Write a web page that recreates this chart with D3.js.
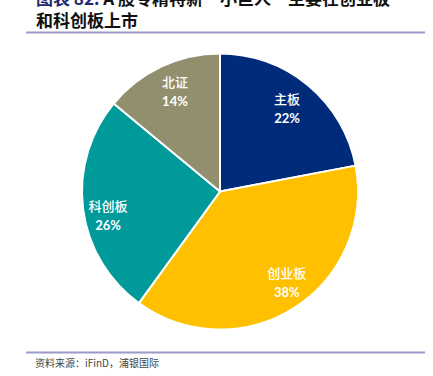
<!DOCTYPE html>
<html><head><meta charset="utf-8">
<script src="https://cdn.jsdelivr.net/npm/d3@7"></script>
<style>
html,body{margin:0;padding:0;background:#fff;}
svg{display:block;}
</style></head>
<body>
<svg id="chart" width="433" height="376"></svg>
<script>
const categories = ["主板", "创业板", "科创板", "北证"];
const shares = [22, 38, 26, 14];
const colors = ["#002B7A", "#FFC000", "#009A9A", "#928F6E"];
const titleLines = ["和科创板上市"];
const source = "资料来源：iFinD，浦银国际";

// label placement nudges (degrees, radius fraction) to mimic the original layout
const labelShiftDeg = [-0.5, -3.8, -4.9, 0.8];
const labelRadius = [0.77, 0.82, 0.83, 0.79];

const svg = d3.select("#chart");
const cx = 220, cy = 191.5, R = 138;
const cjk = "'Noto Sans CJK SC', sans-serif";
const latin = "Lato, 'Noto Sans CJK SC', sans-serif";

// title (first line partially cut off at top, as in the original)
const t1 = svg.append("text").attr("x", 36).attr("y", 5)
  .attr("font-family", cjk).attr("font-size", 17).attr("font-weight", "bold");
t1.append("tspan").attr("fill", "#1F2A6E").text("图表 82: ");
t1.append("tspan").attr("fill", "#111").text("A 股专精特新“小巨人”主要在创业板");
svg.append("text").attr("x", 36).attr("y", 27)
  .attr("font-family", cjk).attr("font-size", 17).attr("font-weight", "bold")
  .attr("fill", "#111").text(titleLines[0]);

svg.append("line").attr("x1", 26).attr("x2", 425).attr("y1", 32.5).attr("y2", 32.5)
  .attr("stroke", "#9C9AC8").attr("stroke-width", 2);
svg.append("line").attr("x1", 26).attr("x2", 425).attr("y1", 352.5).attr("y2", 352.5)
  .attr("stroke", "#9C9AC8").attr("stroke-width", 2);
svg.append("text").attr("x", 35).attr("y", 367)
  .attr("font-family", cjk).attr("font-size", 10).attr("fill", "#444").text(source);

const data = categories.map((c, i) => ({ name: c, value: shares[i], color: colors[i], i }));
const pie = d3.pie().value(d => d.value).sort(null);
const arcs = pie(data);
const arc = d3.arc().innerRadius(0).outerRadius(R);

const g = svg.append("g").attr("transform", `translate(${cx},${cy})`);
g.selectAll("path").data(arcs).join("path")
  .attr("d", arc).attr("fill", d => d.data.color)
  .attr("stroke", "#fff").attr("stroke-width", 2).attr("stroke-linejoin", "round");

function labelPos(d) {
  const i = d.data.i;
  const a = (d.startAngle + d.endAngle) / 2 + labelShiftDeg[i] * Math.PI / 180;
  const r = R * labelRadius[i];
  return [r * Math.sin(a), -r * Math.cos(a)];
}
const lab = g.selectAll("g.lab").data(arcs).join("g").attr("class", "lab")
  .attr("transform", d => { const [x, y] = labelPos(d); return `translate(${x},${y})`; });
lab.append("text").attr("text-anchor", "middle").attr("y", -5)
  .attr("font-family", cjk).attr("font-size", 13).attr("font-weight", 500)
  .attr("fill", "#fff").text(d => d.data.name);
lab.append("text").attr("text-anchor", "middle").attr("y", 14)
  .attr("font-family", latin).attr("font-size", 13).attr("font-weight", "bold")
  .attr("fill", "#fff").text(d => d.data.value + "%");
</script>
</body></html>
